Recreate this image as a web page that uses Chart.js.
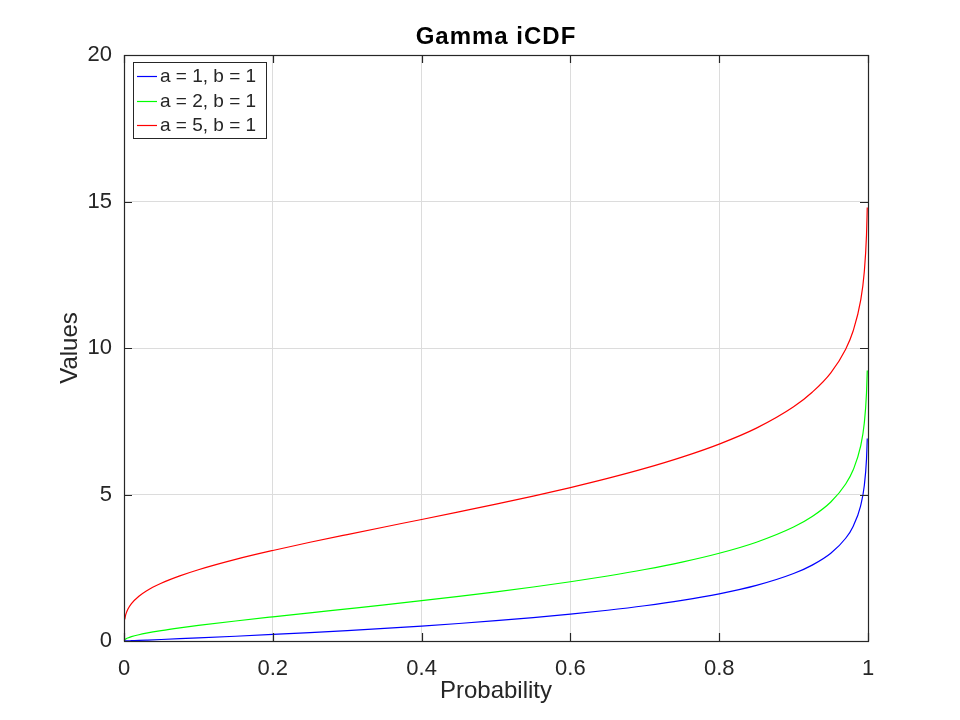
<!DOCTYPE html>
<html>
<head>
<meta charset="utf-8">
<script src="https://cdn.jsdelivr.net/npm/chart.js@4/dist/chart.umd.min.js"></script>
<style>
  html, body { margin: 0; padding: 0; background: #ffffff; }
  #wrap { width: 960px; height: 720px; }
</style>
</head>
<body>
<div id="wrap"><canvas id="c" width="960" height="720"></canvas></div>
<script>
// Probabilities (x values)
const probs = [0, 0.001, 0.002, 0.003, 0.005, 0.01, 0.02, 0.03, 0.05, 0.075, 0.1, 0.15, 0.2, 0.25, 0.3, 0.35, 0.4, 0.45, 0.5, 0.55, 0.6, 0.65, 0.7, 0.75, 0.8, 0.85, 0.9, 0.925, 0.95, 0.97, 0.98, 0.99, 0.995, 0.998, 0.999];
// Values for each curve
const valsA1 = [0, 0.001, 0.002, 0.003, 0.005, 0.0101, 0.0202, 0.0305, 0.0513, 0.078, 0.1054, 0.1625, 0.2231, 0.2877, 0.3567, 0.4308, 0.5108, 0.5978, 0.6931, 0.7985, 0.9163, 1.0498, 1.204, 1.3863, 1.6094, 1.8971, 2.3026, 2.5903, 2.9957, 3.5066, 3.912, 4.6052, 5.2983, 6.2146, 6.9078];
const valsA2 = [0, 0.0457, 0.0646, 0.0796, 0.1035, 0.1486, 0.2147, 0.268, 0.3554, 0.4485, 0.5318, 0.6832, 0.8244, 0.9613, 1.0974, 1.2344, 1.3764, 1.5238, 1.6783, 1.8434, 2.0223, 2.219, 2.4392, 2.6926, 2.9943, 3.372, 3.8897, 4.249, 4.7439, 5.357, 5.834, 6.6384, 7.43, 8.463, 9.2334];
const valsA5 = [null, 0.7395, 0.867, 0.953, 1.078, 1.279, 1.528, 1.71, 1.97, 2.222, 2.4325, 2.786, 3.0895, 3.369, 3.6335, 3.892, 4.1475, 4.408, 4.671, 4.947, 5.2365, 5.549, 5.8905, 6.276, 6.721, 7.265, 7.9935, 8.49, 9.1535, 9.96, 10.58, 11.605, 12.594, 13.86, 14.794];
const seriesLabels = ['a = 1, b = 1', 'a = 2, b = 1', 'a = 5, b = 1'];
const seriesColors = ['#0000ff', '#00ff00', '#ff0000'];
const xTicks = [0, 0.2, 0.4, 0.6, 0.8, 1];
const yTicks = [0, 5, 10, 15, 20];
const titleText = 'Gamma iCDF';
const xTitle = 'Probability';
const yTitle = 'Values';

const TEXT = '#262626';
const FONT = "'Liberation Sans', Arial, Helvetica, sans-serif";

function toPoints(vals) {
  return probs.map((p, i) => ({ x: p, y: vals[i] }));
}

const datasets = [valsA1, valsA2, valsA5].map((vals, i) => ({
  label: seriesLabels[i],
  data: toPoints(vals),
  borderColor: seriesColors[i],
  backgroundColor: seriesColors[i],
  borderWidth: 1.2,
  pointRadius: 0,
  showLine: true,
  fill: false,
  cubicInterpolationMode: 'monotone',
  spanGaps: false
}));

const boxPlugin = {
  id: 'octaveBox',
  afterDraw(chart) {
    const { ctx, chartArea: a, scales } = chart;
    ctx.save();
    // title centred over the plot area
    ctx.fillStyle = '#000000';
    ctx.font = 'bold 24px ' + FONT;
    ctx.textAlign = 'center';
    ctx.textBaseline = 'alphabetic';
    try { ctx.letterSpacing = '1px'; } catch (e) {}
    ctx.fillText(titleText, (a.left + a.right) / 2, 44);
    try { ctx.letterSpacing = '0px'; } catch (e) {}

    ctx.strokeStyle = TEXT;
    ctx.lineWidth = 1.2;
    const tl = 8;
    // inward ticks
    ctx.beginPath();
    xTicks.forEach(v => {
      const px = Math.round(scales.x.getPixelForValue(v)) + 0.5;
      ctx.moveTo(px, a.bottom); ctx.lineTo(px, a.bottom - tl);
      ctx.moveTo(px, a.top); ctx.lineTo(px, a.top + tl);
    });
    yTicks.forEach(v => {
      const py = Math.round(scales.y.getPixelForValue(v)) + 0.5;
      ctx.moveTo(a.left, py); ctx.lineTo(a.left + tl, py);
      ctx.moveTo(a.right, py); ctx.lineTo(a.right - tl, py);
    });
    ctx.stroke();
    // box
    ctx.strokeRect(Math.round(a.left) + 0.5, Math.round(a.top) + 0.5, Math.round(a.right - a.left), Math.round(a.bottom - a.top));
    // legend
    const lx = 133, ly = 62, lw = 133, lh = 76;
    ctx.fillStyle = '#ffffff';
    ctx.fillRect(lx, ly, lw, lh);
    ctx.lineWidth = 1;
    ctx.strokeStyle = TEXT;
    ctx.strokeRect(lx + 0.5, ly + 0.5, lw, lh);
    ctx.font = '19px ' + FONT;
    ctx.textBaseline = 'middle';
    ctx.textAlign = 'left';
    chart.data.datasets.forEach((ds, i) => {
      const y = 76 + i * 24.6;
      ctx.strokeStyle = ds.borderColor;
      ctx.lineWidth = 1.2;
      ctx.beginPath();
      ctx.moveTo(137, Math.round(y) + 0.5);
      ctx.lineTo(157, Math.round(y) + 0.5);
      ctx.stroke();
      ctx.fillStyle = TEXT;
      ctx.fillText(ds.label, 160, y + 1);
    });
    ctx.restore();
  }
};

new Chart(document.getElementById('c'), {
  type: 'scatter',
  data: { datasets },
  options: {
    responsive: false,
    animation: false,
    devicePixelRatio: 1,
    layout: { padding: { left: 0, right: 92, top: 55, bottom: 0 } },
    plugins: {
      legend: { display: false },
      tooltip: { enabled: false },
      title: { display: false }
    },
    scales: {
      x: {
        type: 'linear',
        min: 0, max: 1,
        afterBuildTicks(scale) { scale.ticks = xTicks.map(v => ({ value: v })); },
        afterFit(scale) { scale.height = 79; },
        ticks: {
          color: TEXT,
          padding: 15,
          font: { family: FONT, size: 22 },
          callback: v => String(v)
        },
        grid: { color: '#dcdcdc', lineWidth: 1, drawTicks: false },
        border: { display: false },
        title: {
          display: true,
          text: xTitle,
          color: TEXT,
          font: { family: FONT, size: 24, lineHeight: 1.2 },
          padding: { top: 0, bottom: 14.6 }
        }
      },
      y: {
        type: 'linear',
        min: 0, max: 20,
        afterBuildTicks(scale) { scale.ticks = yTicks.map(v => ({ value: v })); },
        afterFit(scale) { scale.width = 124; },
        ticks: {
          color: TEXT,
          padding: 12,
          font: { family: FONT, size: 22 },
          callback: v => String(v)
        },
        grid: { color: '#dcdcdc', lineWidth: 1, drawTicks: false },
        border: { display: false },
        title: {
          display: true,
          text: yTitle,
          color: TEXT,
          font: { family: FONT, size: 24, lineHeight: 1.2 },
          padding: { top: 56, bottom: 0 }
        }
      }
    }
  },
  plugins: [boxPlugin]
});
</script>
</body>
</html>
